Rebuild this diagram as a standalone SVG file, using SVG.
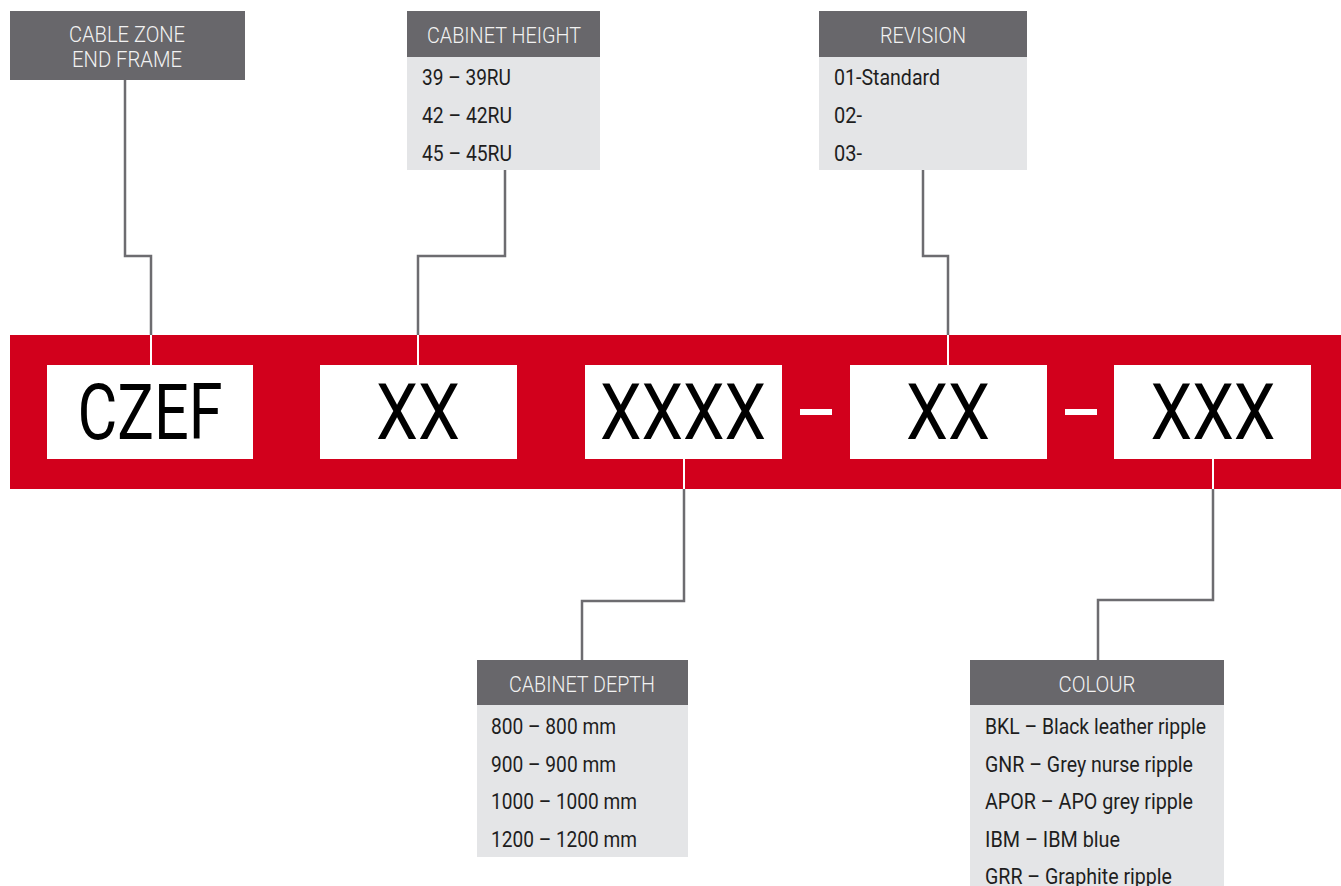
<svg xmlns="http://www.w3.org/2000/svg" width="1341" height="886" viewBox="0 0 1341 886">
<style>
.hd{fill:#68676b}
.bd{fill:#e4e5e7}
.ht{font-family:Roboto,"Liberation Sans",sans-serif;font-weight:300;font-size:22px;fill:#f2f2f2;text-anchor:middle}
.it{font-family:Roboto,"Liberation Sans",sans-serif;font-weight:400;font-size:22px;fill:#1e1e1e}
.big{font-family:Roboto,"Liberation Sans",sans-serif;font-weight:400;font-size:78px;fill:#000;text-anchor:middle}
.cg{fill:none;stroke:#6d6c70;stroke-width:2.5}
.cw{fill:none;stroke:#ffffff;stroke-width:2}
</style>
<rect width="1341" height="886" fill="#ffffff"/>
<g id="band">
<rect x="10" y="335" width="1331" height="154" fill="#d2001c"/>
<rect x="800" y="409" width="32" height="6" fill="#ffffff"/>
<rect x="1065" y="409" width="32" height="6" fill="#ffffff"/>
</g>
<g id="connectors">
<polyline class="cg" points="125,80 125,256 151,256 151,335"/>
<line class="cw" x1="151" y1="335" x2="151" y2="365"/>
<polyline class="cg" points="505,170 505,256 418,256 418,335"/>
<line class="cw" x1="418" y1="335" x2="418" y2="365"/>
<polyline class="cg" points="923,170 923,256 948,256 948,335"/>
<line class="cw" x1="948" y1="335" x2="948" y2="365"/>
<line class="cw" x1="684" y1="459" x2="684" y2="489"/>
<polyline class="cg" points="684,489 684,601 582,601 582,660"/>
<line class="cw" x1="1213" y1="459" x2="1213" y2="489"/>
<polyline class="cg" points="1213,489 1213,600 1098,600 1098,660"/>
</g>
<g id="code-czef">
<rect x="47" y="365" width="206" height="94" fill="#ffffff"/>
<text class="big" x="150" y="439" textLength="145" lengthAdjust="spacingAndGlyphs">CZEF</text>
</g>
<g id="code-height">
<rect x="320" y="365" width="197" height="94" fill="#ffffff"/>
<text class="big" x="418" y="439" textLength="84" lengthAdjust="spacingAndGlyphs">XX</text>
</g>
<g id="code-depth">
<rect x="585" y="365" width="197" height="94" fill="#ffffff"/>
<text class="big" x="683" y="439" textLength="166" lengthAdjust="spacingAndGlyphs">XXXX</text>
</g>
<g id="code-revision">
<rect x="850" y="365" width="197" height="94" fill="#ffffff"/>
<text class="big" x="948" y="439" textLength="84" lengthAdjust="spacingAndGlyphs">XX</text>
</g>
<g id="code-colour">
<rect x="1114" y="365" width="197" height="94" fill="#ffffff"/>
<text class="big" x="1213" y="439" textLength="125" lengthAdjust="spacingAndGlyphs">XXX</text>
</g>
<g id="cable-zone">
<rect class="hd" x="10" y="11" width="235" height="69"/>
<text class="ht" x="127" y="42" textLength="116" lengthAdjust="spacingAndGlyphs">CABLE ZONE</text>
<text class="ht" x="127" y="67" textLength="110" lengthAdjust="spacingAndGlyphs">END FRAME</text>
</g>
<g id="cabinet-height">
<rect class="hd" x="407" y="11" width="193" height="46"/>
<rect class="bd" x="407" y="57" width="193" height="113"/>
<text class="ht" x="504" y="43" textLength="154" lengthAdjust="spacingAndGlyphs">CABINET HEIGHT</text>
<text class="it" x="422" y="85" textLength="89" lengthAdjust="spacingAndGlyphs">39 – 39RU</text>
<text class="it" x="422" y="123" textLength="90" lengthAdjust="spacingAndGlyphs">42 – 42RU</text>
<text class="it" x="422" y="161" textLength="90" lengthAdjust="spacingAndGlyphs">45 – 45RU</text>
</g>
<g id="revision">
<rect class="hd" x="819" y="11" width="208" height="46"/>
<rect class="bd" x="819" y="57" width="208" height="113"/>
<text class="ht" x="923" y="43" textLength="86" lengthAdjust="spacingAndGlyphs">REVISION</text>
<text class="it" x="834" y="85" textLength="106" lengthAdjust="spacingAndGlyphs">01-Standard</text>
<text class="it" x="834" y="123" textLength="28" lengthAdjust="spacingAndGlyphs">02-</text>
<text class="it" x="834" y="161" textLength="28" lengthAdjust="spacingAndGlyphs">03-</text>
</g>
<g id="cabinet-depth">
<rect class="hd" x="477" y="660" width="211" height="45"/>
<rect class="bd" x="477" y="705" width="211" height="152"/>
<text class="ht" x="582" y="692" textLength="146" lengthAdjust="spacingAndGlyphs">CABINET DEPTH</text>
<text class="it" x="491" y="734" textLength="125" lengthAdjust="spacingAndGlyphs">800 – 800 mm</text>
<text class="it" x="491" y="772" textLength="125" lengthAdjust="spacingAndGlyphs">900 – 900 mm</text>
<text class="it" x="491" y="809" textLength="146" lengthAdjust="spacingAndGlyphs">1000 – 1000 mm</text>
<text class="it" x="491" y="847" textLength="146" lengthAdjust="spacingAndGlyphs">1200 – 1200 mm</text>
</g>
<g id="colour">
<rect class="hd" x="970" y="660" width="254" height="45"/>
<rect class="bd" x="970" y="705" width="254" height="181"/>
<text class="ht" x="1097" y="692" textLength="77" lengthAdjust="spacingAndGlyphs">COLOUR</text>
<text class="it" x="985" y="734" textLength="221" lengthAdjust="spacingAndGlyphs">BKL – Black leather ripple</text>
<text class="it" x="985" y="772" textLength="208" lengthAdjust="spacingAndGlyphs">GNR – Grey nurse ripple</text>
<text class="it" x="985" y="809" textLength="208" lengthAdjust="spacingAndGlyphs">APOR – APO grey ripple</text>
<text class="it" x="985" y="847" textLength="135" lengthAdjust="spacingAndGlyphs">IBM – IBM blue</text>
<text class="it" x="985" y="884" textLength="187" lengthAdjust="spacingAndGlyphs">GRR – Graphite ripple</text>
</g>
</svg>
